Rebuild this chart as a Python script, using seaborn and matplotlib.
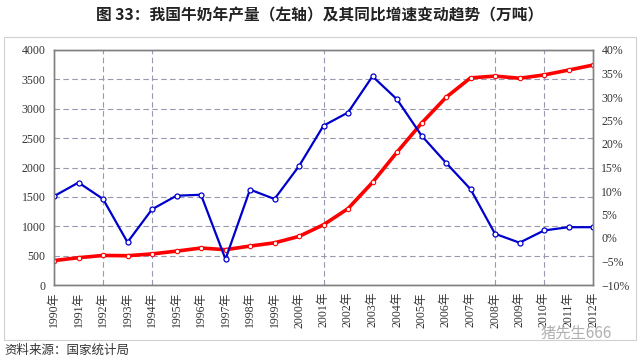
import matplotlib
matplotlib.use("Agg")
import matplotlib.pyplot as plt
import matplotlib.ticker as mticker
import seaborn as sns
import pandas as pd
from matplotlib.patches import Rectangle

years = list(range(1990, 2013))
year_labels = [f"{y}年" for y in years]
production = [415.7, 464.6, 503.1, 498.6, 528.8, 576.4, 629.4, 601.1, 662.9, 717.6,
              827.4, 1025.5, 1299.8, 1746.3, 2260.6, 2753.4, 3193.4, 3525.2, 3555.8,
              3518.8, 3575.6, 3657.8, 3743.6]
growth = [8.9, 11.8, 8.3, -0.9, 6.1, 9.0, 9.2, -4.5, 10.3, 8.3, 15.3, 23.9, 26.7,
          34.4, 29.5, 21.8, 16.0, 10.4, 0.9, -1.0, 1.6, 2.3, 2.3]
vgrid_years = [1992, 1994, 2001, 2008, 2010]

title = "图 33：我国牛奶年产量（左轴）及其同比增速变动趋势（万吨）"
source = "资料来源：国家统计局"
watermark = "猪先生666"

sns.set_theme(style="white")
fam = ["Liberation Serif", "Noto Sans CJK SC", "DejaVu Sans"]
plt.rcParams["font.family"] = fam
plt.rcParams["axes.unicode_minus"] = False

df = pd.DataFrame({"year": years, "production": production, "growth": growth})

fig = plt.figure(figsize=(6.4, 3.61), dpi=100)
ax = fig.add_axes([54/640, 1-285/361, (593-54)/640, (285-50)/361])
ax2 = ax.twinx()

# frame
fig.patches.append(Rectangle((4/640, 1-340/361), 632/640, 303/361, transform=fig.transFigure,
                             fill=False, edgecolor="#d0d0d0", linewidth=0.8))

sns.lineplot(data=df, x="year", y="production", ax=ax, color="#ff0000", linewidth=2.6,
             marker="o", markersize=3.2, markerfacecolor="white", markeredgecolor="#ff0000",
             markeredgewidth=0.8)
sns.lineplot(data=df, x="year", y="growth", ax=ax2, color="#0000cc", linewidth=1.6,
             marker="o", markersize=3.6, markerfacecolor="white", markeredgecolor="#0000cc",
             markeredgewidth=0.9)

ax.set_xlim(1990, 2012)
ax.set_ylim(0, 4000)
ax2.set_ylim(-10, 40)
ax.set_yticks(range(0, 4001, 500))
ax2.set_yticks(range(-10, 41, 5))
ax2.yaxis.set_major_formatter(mticker.FuncFormatter(lambda v, p: f"{int(v)}%" if v >= 0 else f"−{int(-v)}%"))
ax.set_xticks(years)
ax.set_xticklabels(year_labels, rotation=90, fontsize=8.5, color="#333333", family=fam)
ax.set_xlabel("")
ax.set_ylabel("")
ax2.set_ylabel("")

for a in (ax, ax2):
    a.tick_params(axis="y", length=0, labelsize=8.5, labelcolor="#333333", pad=6)
ax.tick_params(axis="x", direction="in", length=4, color="#808080", width=0.8, pad=5)

ax.yaxis.grid(True, linestyle=(0, (5, 3)), color="#9898b0", linewidth=0.8)
for y in vgrid_years:
    ax.axvline(y, linestyle=(0, (5, 3)), color="#9898b0", linewidth=0.8, zorder=0.5)

for a in (ax, ax2):
    for s in a.spines.values():
        s.set_color("#808080")
        s.set_linewidth(1.0)

fig.text(0.5, 1-15/361, title, ha="center", va="center", fontsize=11.3, fontweight="bold",
         color="#222222", family=["Noto Sans CJK SC", "DejaVu Sans"])
fig.text(4/640, 1-350/361, source, ha="left", va="center", fontsize=9,
         color="#333333", family=["Noto Sans CJK SC", "DejaVu Sans"])
fig.text(612/640, 1-333/361, watermark, ha="right", va="center", fontsize=11,
         color="#b0b0b0", family=["Noto Sans CJK SC", "DejaVu Sans"])

fig.savefig("out.png", dpi=100)
